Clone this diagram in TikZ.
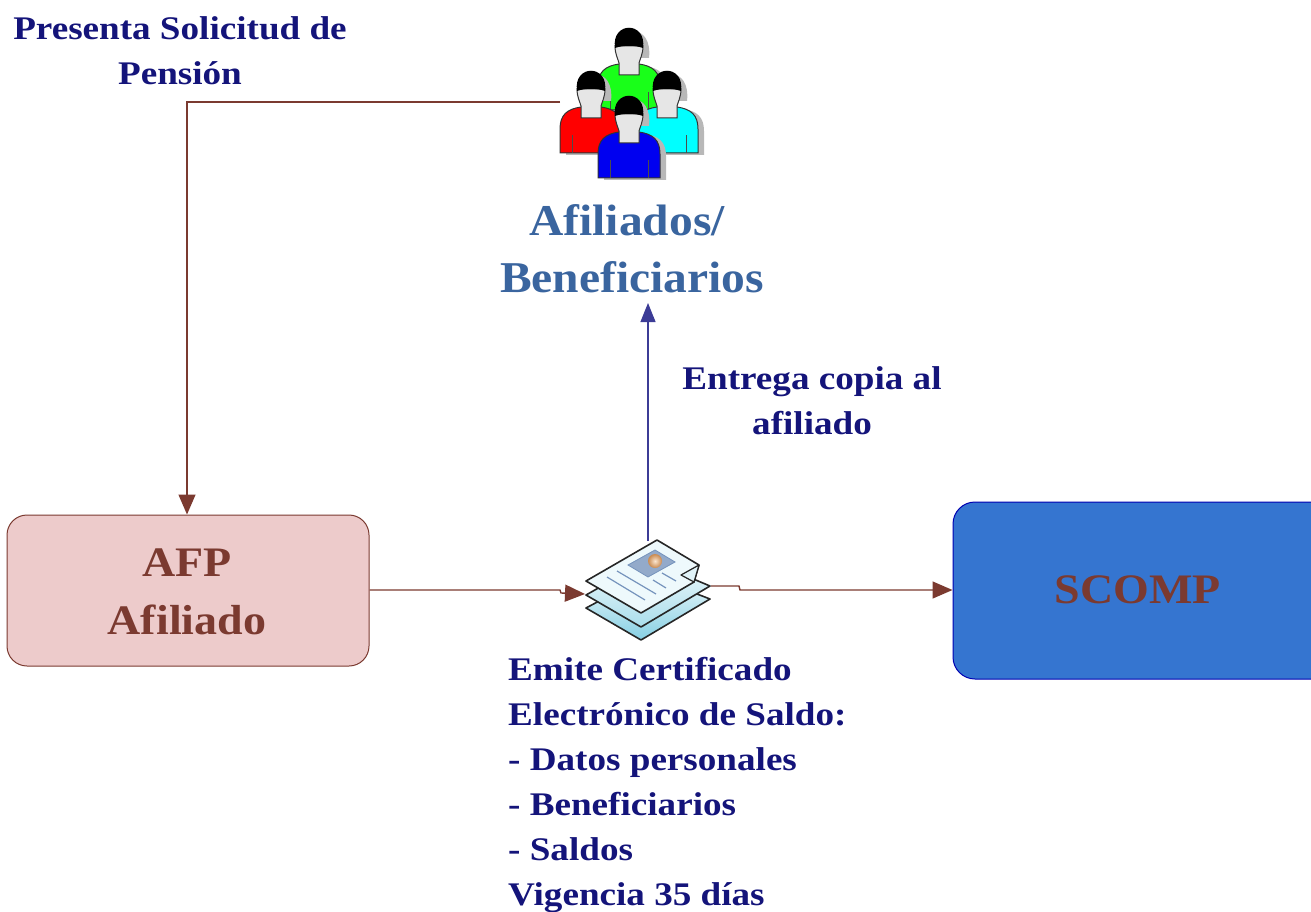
\documentclass[tikz,border=0pt]{standalone}
\usepackage{fontspec}
\setmainfont{Liberation Serif}
\newfontfamily\widelabel[FakeStretch=1.125]{Liberation Serif}
\newfontfamily\widetitle[FakeStretch=1.08]{Liberation Serif}
\newfontfamily\widebox[FakeStretch=1.095]{Liberation Serif}
\usetikzlibrary{arrows.meta,calc}
\definecolor{navy}{HTML}{14147A}
\definecolor{steel}{HTML}{3A659F}
\definecolor{maroon}{HTML}{7B3A30}
\definecolor{arrowblue}{HTML}{3C3C96}
\definecolor{afpfill}{HTML}{EDCBCB}
\definecolor{scompfill}{HTML}{3575D0}
\definecolor{facegray}{HTML}{E6E6E6}
\definecolor{pgreen}{HTML}{19FF19}
\definecolor{pred}{HTML}{FF0000}
\definecolor{pcyan}{HTML}{00FFFF}
\definecolor{pblue}{HTML}{0000F0}
\definecolor{sheetlight}{HTML}{EEF9FC}
\definecolor{sheetdark}{HTML}{86CFE3}
\definecolor{ballin}{HTML}{FBE6D0}
\definecolor{ballout}{HTML}{C98A50}
\tikzset{
  navylabel/.style={text=navy,font=\widelabel\fontsize{33}{45}\selectfont\bfseries,inner sep=0pt},
  titlelabel/.style={text=steel,font=\widetitle\fontsize{44}{57}\selectfont\bfseries,inner sep=0pt,align=center},
  boxlabel/.style={text=maroon,font=\widebox\fontsize{42}{58}\selectfont\bfseries,inner sep=0pt,align=center},
  redflow/.style={draw=maroon,line width=1.4pt},
  redarrow/.style={redflow,-{Triangle[length=20pt,width=17pt,fill=maroon]}},
  bluearrow/.style={draw=arrowblue,line width=1.2pt,-{Triangle[length=19pt,width=15pt,fill=arrowblue]}},
  sheet/.style={draw=black!85,line width=1.6pt,line join=round},
}
\newcommand{\bodyshape}{(-31,68) -- (-31,44) .. controls (-31,30) and (-24,24) .. (-10,22) -- (10,22) .. controls (24,24) and (31,30) .. (31,44) -- (31,68) -- cycle}
\newcommand{\faceshape}{(-14,4) .. controls (-14,12) and (-11,17) .. (-10,21) -- (-10,33) -- (10,33) -- (10,21) .. controls (11,17) and (14,12) .. (14,4) -- cycle}
\newcommand{\personfig}[3]{%
  \begin{scope}[shift={(#1,#2)}]
    \fill[black!28,shift={(6,2)}] \bodyshape;
    \fill[black!28,shift={(6,2)}] (-14,14) .. controls (-18,-21) and (18,-21) .. (14,14) -- cycle;
    \draw[fill=#3,draw=black!80,line width=1pt] \bodyshape;
    \draw[black!70,line width=.8pt] (-19,68) -- (-19,50) (19,68) -- (19,50);
    \draw[fill=facegray,draw=black!80,line width=1pt] \faceshape;
    \fill[black] (-14,6) .. controls (-18,-21) and (18,-21) .. (14,6) .. controls (5,3) and (-5,3) .. (-14,6) -- cycle;
  \end{scope}}
\begin{document}
\begin{tikzpicture}[x=1pt,y=-1pt]
\useasboundingbox (0,0) rectangle (1311,912);
% people
\personfig{629}{42}{pgreen}
\personfig{591}{85}{pred}
\personfig{667}{85}{pcyan}
\personfig{629}{110}{pblue}
\coordinate (people) at (560,102);
\coordinate (turn) at (187,102);
% boxes
\node[draw=maroon,line width=1pt,fill=afpfill,rounded corners=20pt,minimum width=362pt,minimum height=151pt,inner sep=0pt] (afp) at (188,590.5) {};
\node[boxlabel] (afplabel) at (187,592) {AFP\\Afiliado};
\node[draw=blue!70!black,line width=1pt,fill=scompfill,rounded corners=22pt,minimum width=380pt,minimum height=177pt,inner sep=0pt] (scomp) at (1143,590.5) {};
\node[boxlabel] (scomplabel) at (1138,590) {SCOMP};
% document
\shade[sheet,top color=sheetlight,bottom color=sheetdark] (586,608) -- (648,575) -- (710,599) -- (641,640) -- cycle;
\shade[sheet,top color=sheetlight,bottom color=sheetdark!70] (586,595) -- (648,560) -- (710,586) -- (641,627) -- cycle;
\draw[sheet,fill=sheetlight] (586,581) -- (657,540) -- (699,565) -- (694,582) -- (641,613) -- cycle;
\draw[sheet,fill=sheetdark!25,line width=1.2pt] (681,575) -- (699,565) -- (694,582) -- cycle;
\draw[fill=steel!55,draw=steel!70,line width=.8pt] (628,565) -- (655,550) -- (675,562) -- (648,577) -- cycle;
\shade[inner color=ballin,outer color=ballout] (655,561) circle (7);
\draw[steel!70,line width=1.2pt] (617,571) -- (656,594) (607,577) -- (645,600) (653,580) -- (666,588) (662,573) -- (676,581);
\coordinate (docin) at (585,594);
\coordinate (docout) at (711,586);
\coordinate (doctop) at (648,541);
% connectors
\draw[redarrow] (people) -- (turn) -- (afp.north -| turn);
\draw[redarrow] (afp.east |- 0,590) -- (560,590) -- (561,593) -- (docin);
\draw[redarrow] (docout) -- (739,586) -- (740,590) -- (scomp.west |- 0,590);
\draw[bluearrow] (doctop) -- (648,303);
% labels
\node[navylabel,align=center] (lbl1) at (180,51) {Presenta Solicitud de\\Pensión};
\node[navylabel,align=center] (lbl2) at (812,401) {Entrega copia al\\afiliado};
\node[navylabel,align=left,anchor=north west] (lbl3) at (508,657) {Emite Certificado\\Electrónico de Saldo:\\- Datos personales\\- Beneficiarios\\- Saldos\\Vigencia 35 días};
\node[titlelabel] (title) at (632,249) {Afiliados/\hspace*{10pt}\\Beneficiarios};
\end{tikzpicture}
\end{document}
